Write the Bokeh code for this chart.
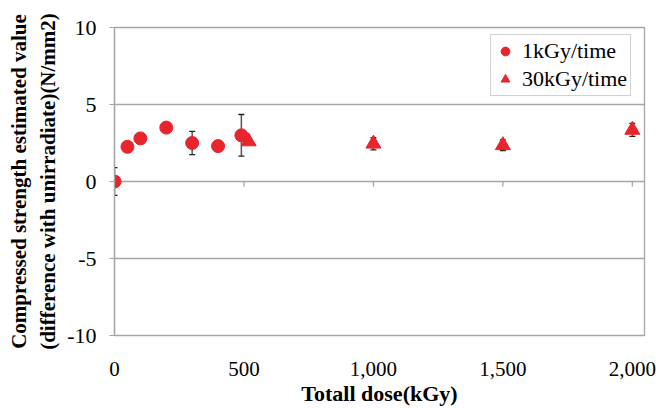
from bokeh.plotting import figure
from bokeh.models import (ColumnDataSource, Whisker, TeeHead, FixedTicker,
                          NumeralTickFormatter, PrintfTickFormatter, Range1d,
                          Legend, LegendItem)
from bokeh.embed import file_html
from bokeh.resources import INLINE

# ---- data ----
dose_1k = [0, 50, 100, 200, 300, 400, 490]
val_1k = [0.0, 2.25, 2.8, 3.5, 2.5, 2.3, 3.0]
err_1k = [0.9, 0.0, 0.0, 0.0, 0.75, 0.0, 1.35]

dose_30k = [518, 1000, 1500, 2000]
val_30k = [2.6, 2.45, 2.35, 3.35]
err_30k = [0.0, 0.4, 0.35, 0.42]

x_ticks = [0, 500, 1000, 1500, 2000]
y_ticks = [-10, -5, 0, 5, 10]

RED = "#e8242c"
GRID = "#a6a6a6"
FONT = "Liberation Serif"

p = figure(width=656, height=408, output_backend="svg", toolbar_location=None,
           x_range=Range1d(0, 2047), y_range=Range1d(-10, 10),
           min_border_left=114, min_border_right=12, min_border_top=27,
           min_border_bottom=71)
p.background_fill_color = "white"
p.border_fill_color = "white"
p.outline_line_color = GRID
p.outline_line_width = 1.3

# grid
p.xgrid.visible = False
p.ygrid.ticker = FixedTicker(ticks=y_ticks)
p.ygrid.grid_line_color = GRID
p.ygrid.grid_line_width = 1.3

# y axis
p.yaxis.ticker = FixedTicker(ticks=y_ticks)
p.yaxis.formatter = PrintfTickFormatter(format="%d")
p.yaxis.axis_line_color = GRID
p.yaxis.axis_line_width = 1.3
p.yaxis.major_tick_line_color = GRID
p.yaxis.major_tick_in = 0
p.yaxis.major_tick_out = 5
p.yaxis.minor_tick_line_color = None
p.yaxis.major_label_text_font = FONT
p.yaxis.major_label_text_font_size = "22px"
p.yaxis.major_label_text_color = "black"
p.yaxis.major_label_standoff = 13
p.yaxis.axis_label = "Compressed strength estimated value\n(difference with unirradiate)(N/mm2)"
p.yaxis.axis_label_text_font = FONT
p.yaxis.axis_label_text_font_style = "bold"
p.yaxis.axis_label_text_font_size = "21px"
p.yaxis.axis_label_text_color = "black"
p.yaxis.axis_label_standoff = 4

# x axis (labels at bottom, tick marks drawn at y=0)
p.xaxis.ticker = FixedTicker(ticks=x_ticks)
p.xaxis.formatter = NumeralTickFormatter(format="0,0")
p.xaxis.axis_line_color = None
p.xaxis.major_tick_line_color = None
p.xaxis.minor_tick_line_color = None
p.xaxis.major_label_text_font = FONT
p.xaxis.major_label_text_font_size = "21px"
p.xaxis.major_label_text_color = "black"
p.xaxis.major_label_standoff = 20
p.xaxis.axis_label = "Totall dose(kGy)"
p.xaxis.axis_label_text_font = FONT
p.xaxis.axis_label_text_font_style = "bold"
p.xaxis.axis_label_text_font_size = "22px"
p.xaxis.axis_label_text_color = "black"
p.xaxis.axis_label_standoff = 2

# tick marks on the zero line
tick_len = 0.33
p.segment(x0=x_ticks, y0=[0] * len(x_ticks), x1=x_ticks,
          y1=[-tick_len] * len(x_ticks), line_color=GRID, line_width=1.3)

# error bars
src1 = ColumnDataSource(dict(x=dose_1k, y=val_1k,
                             lo=[v - e for v, e in zip(val_1k, err_1k)],
                             hi=[v + e for v, e in zip(val_1k, err_1k)]))
src2 = ColumnDataSource(dict(x=dose_30k, y=val_30k,
                             lo=[v - e for v, e in zip(val_30k, err_30k)],
                             hi=[v + e for v, e in zip(val_30k, err_30k)]))
for s in (src1, src2):
    w = Whisker(source=s, base="x", lower="lo", upper="hi",
                line_color="#555555", line_width=1.5,
                upper_head=TeeHead(size=6, line_color="#222222", line_width=1.3),
                lower_head=TeeHead(size=6, line_color="#222222", line_width=1.3))
    p.add_layout(w)

r1 = p.scatter("x", "y", source=src1, marker="circle", size=13,
               fill_color=RED, line_color=RED)
r2 = p.scatter("x", "y", source=src2, marker="triangle", size=15,
               fill_color=RED, line_color=RED)

legend = Legend(items=[LegendItem(label="1kGy/time", renderers=[r1]),
                       LegendItem(label="30kGy/time", renderers=[r2])],
                location=(376, 239))
legend.label_text_font = FONT
legend.label_text_font_size = "22px"
legend.label_text_color = "black"
legend.border_line_color = GRID
legend.border_line_width = 1.3
legend.margin = 0
legend.padding = 3
legend.spacing = 2
legend.glyph_width = 22
legend.glyph_height = 22
legend.label_standoff = 6
legend.label_height = 26
legend.background_fill_alpha = 1
p.add_layout(legend, "center")

open("out.html", "w").write(file_html(p, INLINE))
